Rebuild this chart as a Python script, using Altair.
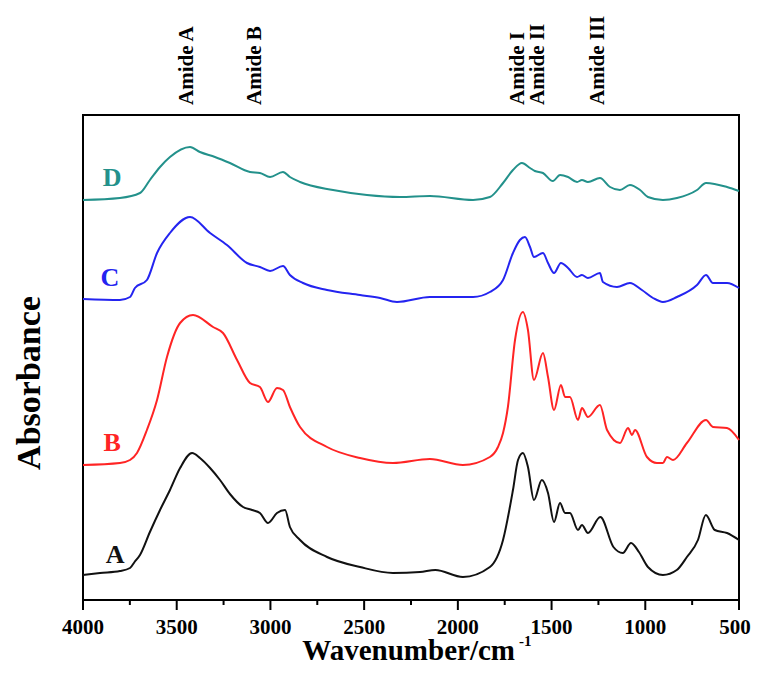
import altair as alt
import pandas as pd

samples = ["A", "B", "C", "D"]
colors = ["#111111", "#ff2424", "#2424f0", "#23918b"]

wn_A = [4000, 3909, 3803, 3749, 3725, 3696, 3643, 3589, 3536, 3482, 3418, 3376, 3322, 3269, 3216,
        3146, 3098, 3056, 3013, 2965, 2922, 2896, 2842, 2698, 2522, 2346, 2202, 2120, 1973, 1829,
        1759, 1706, 1679, 1653, 1626, 1594, 1552, 1519, 1487, 1455, 1428, 1402, 1359, 1338, 1306,
        1240, 1170, 1120, 1076, 1034, 986, 906, 832, 778, 719, 677, 629, 564, 500]
ab_A = [0.25, 0.27, 0.29, 0.32, 0.38, 0.45, 0.68, 0.90, 1.10, 1.32, 1.47, 1.42, 1.32, 1.20, 1.06,
        0.93, 0.90, 0.87, 0.77, 0.87, 0.90, 0.73, 0.60, 0.43, 0.33, 0.27, 0.28, 0.30, 0.23, 0.33,
        0.60, 1.10, 1.40, 1.47, 1.33, 1.00, 1.20, 1.07, 0.78, 0.97, 0.87, 0.87, 0.70, 0.75, 0.67,
        0.83, 0.53, 0.47, 0.57, 0.48, 0.33, 0.25, 0.30, 0.43, 0.60, 0.85, 0.70, 0.67, 0.60]

wn_B = [4000, 3803, 3749, 3712, 3659, 3605, 3552, 3482, 3413, 3306, 3253, 3178, 3109, 3056, 3013,
        2965, 2933, 2896, 2842, 2698, 2522, 2346, 2149, 1973, 1829, 1786, 1759, 1733, 1695, 1653,
        1626, 1594, 1546, 1519, 1487, 1450, 1428, 1402, 1359, 1338, 1306, 1242, 1204, 1135, 1092,
        1071, 1055, 991, 938, 906, 884, 852, 778, 676, 639, 564, 500]
ab_B = [1.35, 1.37, 1.40, 1.47, 1.70, 2.00, 2.43, 2.77, 2.85, 2.73, 2.67, 2.40, 2.17, 2.13, 1.98,
        2.12, 2.10, 1.93, 1.73, 1.53, 1.42, 1.37, 1.41, 1.35, 1.43, 1.53, 1.67, 1.93, 2.60, 2.88,
        2.70, 2.20, 2.47, 2.23, 1.90, 2.15, 2.03, 2.03, 1.80, 1.92, 1.83, 1.95, 1.70, 1.57, 1.72,
        1.65, 1.70, 1.43, 1.37, 1.37, 1.43, 1.40, 1.57, 1.80, 1.73, 1.72, 1.60]

wn_C = [4000, 3803, 3749, 3723, 3659, 3605, 3536, 3429, 3322, 3232, 3125, 3056, 3002, 2933, 2896,
        2826, 2698, 2522, 2415, 2325, 2149, 1919, 1829, 1759, 1706, 1669, 1642, 1615, 1594, 1546,
        1519, 1487, 1450, 1412, 1364, 1338, 1306, 1242, 1226, 1151, 1082, 1018, 959, 906, 831,
        724, 676, 639, 564, 500]
ab_C = [3.01, 3.00, 3.03, 3.12, 3.20, 3.47, 3.67, 3.83, 3.67, 3.55, 3.37, 3.33, 3.29, 3.34, 3.25,
        3.17, 3.10, 3.05, 3.02, 2.98, 3.03, 3.03, 3.08, 3.20, 3.47, 3.60, 3.63, 3.53, 3.43, 3.47,
        3.37, 3.27, 3.37, 3.32, 3.23, 3.25, 3.22, 3.27, 3.18, 3.13, 3.17, 3.10, 3.02, 2.98, 3.03,
        3.15, 3.25, 3.17, 3.17, 3.12]

wn_D = [4000, 3803, 3696, 3643, 3589, 3536, 3429, 3376, 3296, 3216, 3109, 3056, 3002, 2933, 2896,
        2842, 2666, 2485, 2309, 2149, 1919, 1829, 1759, 1706, 1658, 1615, 1589, 1546, 1493, 1455,
        1412, 1364, 1338, 1306, 1242, 1188, 1135, 1082, 1028, 986, 906, 831, 724, 676, 564, 500]
ab_D = [4.00, 4.02, 4.07, 4.20, 4.33, 4.43, 4.53, 4.48, 4.43, 4.37, 4.28, 4.27, 4.23, 4.28, 4.23,
        4.18, 4.10, 4.05, 4.03, 4.04, 4.00, 4.03, 4.17, 4.30, 4.37, 4.32, 4.29, 4.27, 4.19, 4.25,
        4.23, 4.18, 4.20, 4.18, 4.22, 4.13, 4.10, 4.15, 4.10, 4.03, 4.00, 4.02, 4.10, 4.17, 4.13, 4.09]

# curve labels (position in data units)
label_wn = [3829, 3845, 3856, 3845]
label_ab = [0.45, 1.57, 3.22, 4.22]

# band annotations on top
band_names = ["Amide A", "Amide B", "Amide I", "Amide II", "Amide III"]
band_wn = [3445, 3082, 1679, 1572, 1252]

major_ticks = [4000, 3500, 3000, 2500, 2000, 1500, 1000]
tick_labels = ["4000", "3500", "3000", "2500", "2000", "1500", "1000"]
end_tick = [500]
end_label = ["500"]
minor_ticks = [3750, 3250, 2750, 2250, 1750, 1250, 750]

rows = []
for name, ws, as_ in [("A", wn_A, ab_A), ("B", wn_B, ab_B), ("C", wn_C, ab_C), ("D", wn_D, ab_D)]:
    for w, a in zip(ws, as_):
        rows.append({"sample": name, "w": w, "a": a})
df = pd.DataFrame(rows)
lab_df = pd.DataFrame({"sample": samples, "w": label_wn, "a": label_ab})
band_df = pd.DataFrame({"name": band_names, "w": band_wn})
inner_df = pd.DataFrame({"w": major_ticks, "t": tick_labels})
end_df = pd.DataFrame({"w": end_tick, "t": end_label})

# tick marks: from the frame (0) down below it, in y-scale units (100 px per unit)
major_df = pd.DataFrame({"w": major_ticks + end_tick})
major_df["top"] = 0.0
major_df["bot"] = -0.10
minor_df = pd.DataFrame({"w": minor_ticks})
minor_df["top"] = 0.0
minor_df["bot"] = -0.05

FONT = "Liberation Serif"
x_scale = alt.Scale(domain=[500, 4000], reverse=True, nice=False, zero=False)
y_scale = alt.Scale(domain=[0, 4.85], nice=False, zero=False)
color_scale = alt.Scale(domain=samples, range=colors)


def X(field="w"):
    return alt.X(f"{field}:Q", scale=x_scale, axis=None)


def Y(field="a"):
    return alt.Y(f"{field}:Q", scale=y_scale, axis=None)


lines = alt.Chart(df).mark_line(strokeWidth=2, interpolate="monotone").encode(
    x=X(), y=Y(),
    color=alt.Color("sample:N", scale=color_scale, legend=None),
    order=alt.Order("w:Q", sort="descending"),
)

major = alt.Chart(major_df).mark_rule(color="#000000", strokeWidth=2, clip=False).encode(
    x=X(), y=Y("top"), y2="bot:Q",
)

minor = alt.Chart(minor_df).mark_rule(color="#000000", strokeWidth=2, clip=False).encode(
    x=X(), y=Y("top"), y2="bot:Q",
)

tick_text = alt.Chart(inner_df).mark_text(
    font=FONT, fontSize=21, fontWeight="bold", align="center", baseline="top", color="black"
).encode(x=X(), y=alt.value(502), text="t:N")

tick_text_end = alt.Chart(end_df).mark_text(
    font=FONT, fontSize=21, fontWeight="bold", align="center", baseline="top", color="black",
    dx=-4,
).encode(x=X(), y=alt.value(502), text="t:N")

labels = alt.Chart(lab_df).mark_text(
    font=FONT, fontSize=26, fontWeight="bold", align="center", baseline="middle"
).encode(
    x=X(), y=Y(),
    text="sample:N",
    color=alt.Color("sample:N", scale=color_scale, legend=None),
)

bands = alt.Chart(band_df).mark_text(
    font=FONT, fontSize=21, fontWeight="bold", align="left", baseline="middle",
    angle=270, color="black"
).encode(x=X(), y=alt.value(-10), text="name:N")

ylab = alt.Chart(pd.DataFrame({"t": ["Absorbance"]})).mark_text(
    font=FONT, fontSize=34, fontWeight="bold", align="center", baseline="middle",
    angle=270, color="black"
).encode(x=alt.value(-53), y=alt.value(268), text="t:N")

xlab = alt.Chart(pd.DataFrame({"t": ["Wavenumber/cm"]})).mark_text(
    font=FONT, fontSize=29, fontWeight="bold", align="right", baseline="alphabetic",
    color="black"
).encode(x=alt.value(432), y=alt.value(545), text="t:N")

xsup = alt.Chart(pd.DataFrame({"t": ["-1"]})).mark_text(
    font=FONT, fontSize=15, fontWeight="bold", align="left", baseline="alphabetic",
    color="black"
).encode(x=alt.value(436), y=alt.value(531), text="t:N")

chart = alt.layer(lines, labels, bands, ylab, xlab, xsup, major, minor, tick_text, tick_text_end).properties(
    width=656, height=485,
    autosize=alt.AutoSizeParams(type="none"),
    padding={"left": 75, "top": 107, "right": 12, "bottom": 62},
    background="white",
).configure_view(stroke="black", strokeWidth=2)

chart.save("out.html", embed_options={"renderer": "svg", "actions": False})
